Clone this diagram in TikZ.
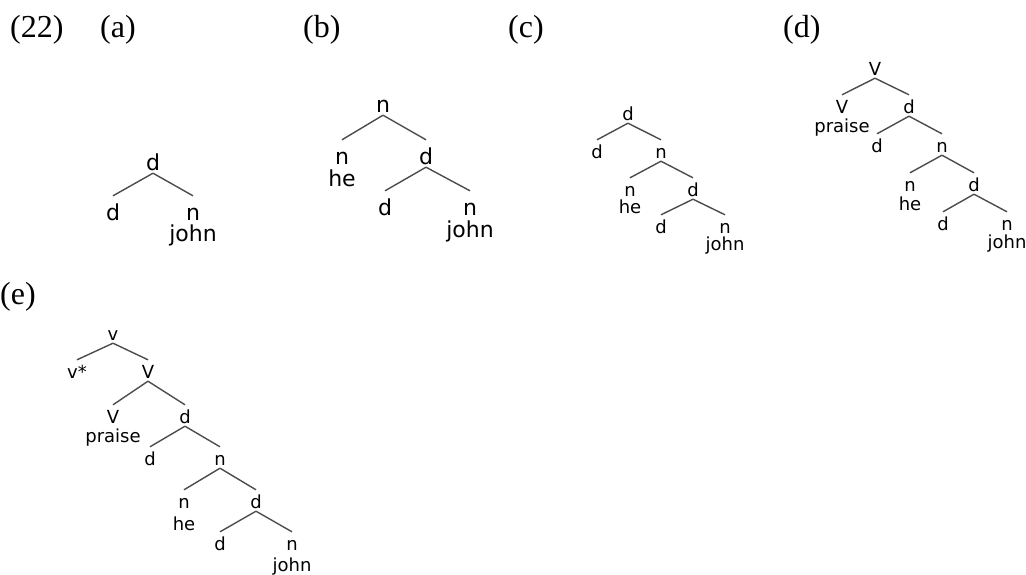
\documentclass[tikz,border=0pt]{standalone}
\usepackage{fontspec}
\setmainfont{Liberation Serif}
\newfontfamily\treefont{DejaVu Sans}
\begin{document}
\begin{tikzpicture}[x=1pt,y=-1pt,
  lbl/.style={inner sep=0pt, anchor=base west, font=\fontsize{32}{32}\selectfont},
  big/.style={inner sep=0pt, anchor=base, font=\treefont\fontsize{22}{22}\selectfont, text height=24pt, text depth=3pt},
  sml/.style={inner sep=0pt, anchor=base, font=\treefont\fontsize{18}{18}\selectfont, text height=18pt, text depth=3pt},
  bigw/.style={inner sep=0pt, anchor=base, font=\treefont\fontsize{22}{22}\selectfont},
  smlw/.style={inner sep=0pt, anchor=base, font=\treefont\fontsize{18}{18}\selectfont},
  edge/.style={draw=black!70, line width=1.4pt}
]
\useasboundingbox (0,0) rectangle (1026,574);

% labels
\node[lbl] (l22) at (10,37) {(22)};
\node[lbl] (la) at (100,37) {(a)};
\node[lbl] (lb) at (303,37) {(b)};
\node[lbl] (lc) at (508,37) {(c)};
\node[lbl] (ld) at (783,37) {(d)};
\node[lbl] (le) at (0,304) {(e)};

% tree (a)
\node[big] (a0) at (153,170) {d};
\node[big] (a1) at (113,220) {d};
\node[big] (a2) at (193,220) {n};
\node[bigw] (a2w) at (193,241) {john};
\draw[edge] (a0.south) -- (a1.north);
\draw[edge] (a0.south) -- (a2.north);

% tree (b)
\node[big] (b0) at (383,112) {n};
\node[big] (b1) at (342,164) {n};
\node[bigw] (b1w) at (342,186) {he};
\node[big] (b2) at (426,164) {d};
\node[big] (b3) at (385,215) {d};
\node[big] (b4) at (470,215) {n};
\node[bigw] (b4w) at (470,237) {john};
\draw[edge] (b0.south) -- (b1.north);
\draw[edge] (b0.south) -- (b2.north);
\draw[edge] (b2.south) -- (b3.north);
\draw[edge] (b2.south) -- (b4.north);

% tree (c)
\node[sml] (c0) at (628,120) {d};
\node[sml] (c1) at (597,158) {d};
\node[sml] (c2) at (661,158) {n};
\node[sml] (c3) at (630,196) {n};
\node[smlw] (c3w) at (630,213) {he};
\node[sml] (c4) at (693,196) {d};
\node[sml] (c5) at (661,233) {d};
\node[sml] (c6) at (725,233) {n};
\node[smlw] (c6w) at (725,250) {john};
\draw[edge] (c0.south) -- (c1.north);
\draw[edge] (c0.south) -- (c2.north);
\draw[edge] (c2.south) -- (c3.north);
\draw[edge] (c2.south) -- (c4.north);
\draw[edge] (c4.south) -- (c5.north);
\draw[edge] (c4.south) -- (c6.north);

% tree (d)
\node[sml] (d0) at (875,75) {V};
\node[sml] (d1) at (842,113) {V};
\node[smlw] (d1w) at (842,132) {praise};
\node[sml] (d2) at (909,113) {d};
\node[sml] (d3) at (877,152) {d};
\node[sml] (d4) at (942,152) {n};
\node[sml] (d5) at (910,191) {n};
\node[smlw] (d5w) at (910,210) {he};
\node[sml] (d6) at (974,191) {d};
\node[sml] (d7) at (943,230) {d};
\node[sml] (d8) at (1007,230) {n};
\node[smlw] (d8w) at (1007,248) {john};
\draw[edge] (d0.south) -- (d1.north);
\draw[edge] (d0.south) -- (d2.north);
\draw[edge] (d2.south) -- (d3.north);
\draw[edge] (d2.south) -- (d4.north);
\draw[edge] (d4.south) -- (d5.north);
\draw[edge] (d4.south) -- (d6.north);
\draw[edge] (d6.south) -- (d7.north);
\draw[edge] (d6.south) -- (d8.north);

% tree (e)
\node[sml] (e0) at (113,340) {v};
\node[sml] (e1) at (77,378) {v*};
\node[sml] (e2) at (148,378) {V};
\node[sml] (e3) at (113,423) {V};
\node[smlw] (e3w) at (113,442) {praise};
\node[sml] (e4) at (185,423) {d};
\node[sml] (e5) at (150,465) {d};
\node[sml] (e6) at (220,465) {n};
\node[sml] (e7) at (184,508) {n};
\node[smlw] (e7w) at (184,530) {he};
\node[sml] (e8) at (256,508) {d};
\node[sml] (e9) at (220,550) {d};
\node[sml] (e10) at (292,550) {n};
\node[smlw] (e10w) at (292,571) {john};
\draw[edge] (e0.south) -- (e1.north);
\draw[edge] (e0.south) -- (e2.north);
\draw[edge] (e2.south) -- (e3.north);
\draw[edge] (e2.south) -- (e4.north);
\draw[edge] (e4.south) -- (e5.north);
\draw[edge] (e4.south) -- (e6.north);
\draw[edge] (e6.south) -- (e7.north);
\draw[edge] (e6.south) -- (e8.north);
\draw[edge] (e8.south) -- (e9.north);
\draw[edge] (e8.south) -- (e10.north);
\end{tikzpicture}
\end{document}
